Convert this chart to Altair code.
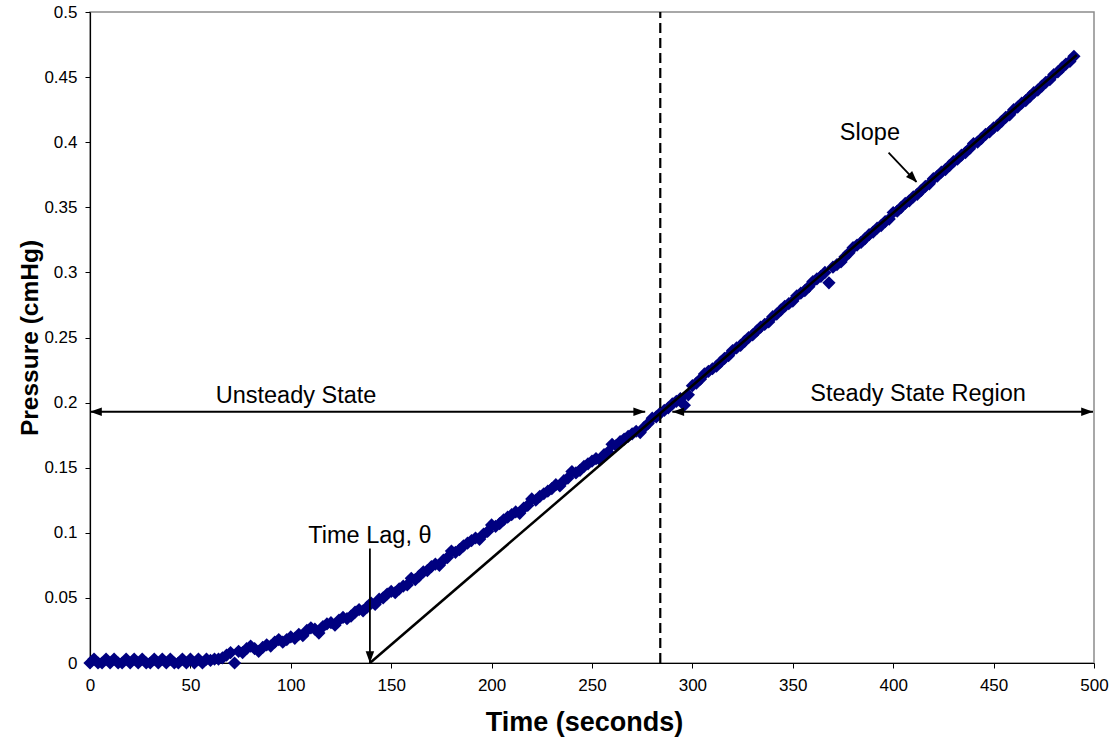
import altair as alt
import pandas as pd

# Sampling times (seconds), one reading every 2 s
time_s = list(range(0, 492, 2))

# Pressure readings (cmHg), 10 per row (20 s per row)
pressure = [
    0, 0.003, 0, 0, 0.003, 0, 0.003, 0, 0, 0.003,
    0, 0.003, 0, 0.003, 0, 0, 0.003, 0, 0.003, 0,
    0.003, 0, 0, 0.003, 0, 0.003, 0, 0.003, 0, 0.003,
    0.002, 0.003, 0.003, 0.004, 0.006, 0.008, 0.0, 0.009, 0.008, 0.011,
    0.013, 0.011, 0.009, 0.012, 0.014, 0.013, 0.016, 0.018, 0.016, 0.018,
    0.020, 0.019, 0.022, 0.021, 0.025, 0.027, 0.026, 0.023, 0.028, 0.030,
    0.031, 0.029, 0.033, 0.035, 0.034, 0.036, 0.039, 0.041, 0.040, 0.043,
    0.046, 0.045, 0.049, 0.050, 0.053, 0.055, 0.054, 0.057, 0.059, 0.060,
    0.065, 0.064, 0.067, 0.070, 0.071, 0.074, 0.076, 0.075, 0.079, 0.081,
    0.086, 0.085, 0.087, 0.090, 0.092, 0.094, 0.096, 0.095, 0.099, 0.101,
    0.106, 0.105, 0.107, 0.110, 0.112, 0.114, 0.116, 0.115, 0.119, 0.121,
    0.126, 0.125, 0.128, 0.130, 0.132, 0.134, 0.137, 0.136, 0.140, 0.142,
    0.147, 0.146, 0.148, 0.151, 0.153, 0.155, 0.157, 0.156, 0.160, 0.162,
    0.168, 0.167, 0.170, 0.172, 0.174, 0.176, 0.178, 0.177, 0.181, 0.184,
    0.188, 0.189, 0.192, 0.194, 0.196, 0.199, 0.201, 0.203, 0.198, 0.206,
    0.213, 0.215, 0.218, 0.222, 0.224, 0.226, 0.228, 0.231, 0.234, 0.236,
    0.240, 0.242, 0.244, 0.247, 0.250, 0.252, 0.255, 0.258, 0.260, 0.262,
    0.266, 0.268, 0.271, 0.274, 0.276, 0.278, 0.282, 0.284, 0.286, 0.289,
    0.293, 0.295, 0.297, 0.300, 0.292, 0.304, 0.306, 0.308, 0.312, 0.315,
    0.319, 0.321, 0.323, 0.326, 0.329, 0.331, 0.334, 0.336, 0.339, 0.341,
    0.346, 0.347, 0.350, 0.353, 0.355, 0.358, 0.360, 0.363, 0.366, 0.368,
    0.372, 0.374, 0.377, 0.379, 0.382, 0.385, 0.387, 0.390, 0.392, 0.395,
    0.399, 0.400, 0.403, 0.406, 0.408, 0.411, 0.413, 0.416, 0.419, 0.421,
    0.425, 0.427, 0.430, 0.432, 0.435, 0.438, 0.440, 0.443, 0.446, 0.448,
    0.452, 0.454, 0.457, 0.460, 0.462, 0.466,
]

# Steady-state fit line (extrapolated to the time lag)
fit_t = [139.4, 491.4]
fit_p = [0.0, 0.467]

# Vertical dashed boundary
boundary_t = [284]

# Arrow shafts: x, x2, y, y2
shaft_x = [0, 290, 139.4, 397.7]
shaft_x2 = [276.5, 499.5, 139.4, 411.5]
shaft_y = [0.193, 0.193, 0.088, 0.392]
shaft_y2 = [0.193, 0.193, 0.0, 0.3695]
shaft_w = [2, 2, 1.8, 1.8]

# Arrowheads: tip positions and direction (degrees clockwise from "right")
head_x = [0, 276.5, 290, 499.5, 139.4, 412.0]
head_y = [0.193, 0.193, 0.193, 0.193, 0.0, 0.369]
head_angle = [180, 0, 180, 0, 90, 46]

# Text labels
label_text = ["Unsteady State", "Steady State Region", "Slope", "Time Lag, θ"]
label_x = [102.6, 412.4, 388.4, 139.4]
label_y = [0.205, 0.2066, 0.407, 0.0975]

x_ticks = [0, 50, 100, 150, 200, 250, 300, 350, 400, 450, 500]
y_ticks = [0, 0.05, 0.1, 0.15, 0.2, 0.25, 0.3, 0.35, 0.4, 0.45, 0.5]

FONT = "Liberation Sans"

xscale = alt.Scale(domain=[0, 500], nice=False, zero=False)
yscale = alt.Scale(domain=[0, 0.5], nice=False)
xaxis = alt.Axis(values=x_ticks, format="d", title="Time (seconds)",
                 labelPadding=9, labelFlush=False, titleX=494, titleY=59,
                 titleFontSize=27,
                 titleBaseline="middle", titleAlign="center")
yaxis = alt.Axis(values=y_ticks, format="~f", title="Pressure (cmHg)",
                 labelPadding=8, labelFlush=False, titleX=-60, titleY=325.5,
                 titleFontSize=24.5,
                 titleBaseline="middle", titleAlign="center", titleAngle=270)


def X(field):
    return alt.X(field, type="quantitative", scale=xscale, axis=xaxis)


def Y(field):
    return alt.Y(field, type="quantitative", scale=yscale, axis=yaxis)


data_df = pd.DataFrame({"t": time_s, "p": pressure})
fit_df = pd.DataFrame({"t": fit_t, "p": fit_p})
bound_df = pd.DataFrame({"t": boundary_t, "p0": [0.0], "p1": [0.5]})
shaft_df = pd.DataFrame({"t": shaft_x, "t2": shaft_x2, "p": shaft_y,
                         "p2": shaft_y2, "w": shaft_w})
head_df = pd.DataFrame({"t": head_x, "p": head_y, "a": head_angle})
label_df = pd.DataFrame({"txt": label_text, "t": label_x, "p": label_y})

points = alt.Chart(data_df).mark_point(
    shape="diamond", filled=True, size=175, color="#000080", opacity=1
).encode(x=X("t"), y=Y("p"))

fit = alt.Chart(fit_df).mark_line(color="black", strokeWidth=2.5).encode(
    x=X("t"), y=Y("p"))

boundary = alt.Chart(bound_df).mark_rule(
    color="black", strokeWidth=2.2, strokeDash=[10, 5]
).encode(x=X("t"), y=Y("p0"), y2="p1")

shafts = alt.Chart(shaft_df).mark_rule(color="black").encode(
    x=X("t"), x2="t2", y=Y("p"), y2="p2",
    strokeWidth=alt.StrokeWidth("w:Q", scale=None))

heads = alt.Chart(head_df).mark_point(
    shape="M0,0L-1,-0.36L-1,0.36Z", filled=True, size=560,
    color="black", opacity=1
).encode(x=X("t"), y=Y("p"), angle=alt.Angle("a:Q", scale=None))

labels = alt.Chart(label_df).mark_text(
    font=FONT, fontSize=23.5, color="black", align="center", baseline="middle"
).encode(x=X("t"), y=Y("p"), text="txt:N")

chart = alt.layer(points, fit, boundary, shafts, heads, labels).properties(
    width=1004, height=651,
    padding={"left": 90, "top": 12, "right": 20, "bottom": 77},
    autosize=alt.AutoSizeParams(type="none"),
    background="white",
).configure_axis(
    labelFont=FONT, labelFontSize=17, labelColor="black",
    titleFont=FONT, titleFontWeight="bold",
    titleColor="black", domainColor="black", tickColor="black",
    tickSize=5, grid=False, domainWidth=1.2,
).configure_view(stroke="#8c8c8c", strokeWidth=1.5)

chart.save("out.html", embed_options={"renderer": "svg", "actions": False})
